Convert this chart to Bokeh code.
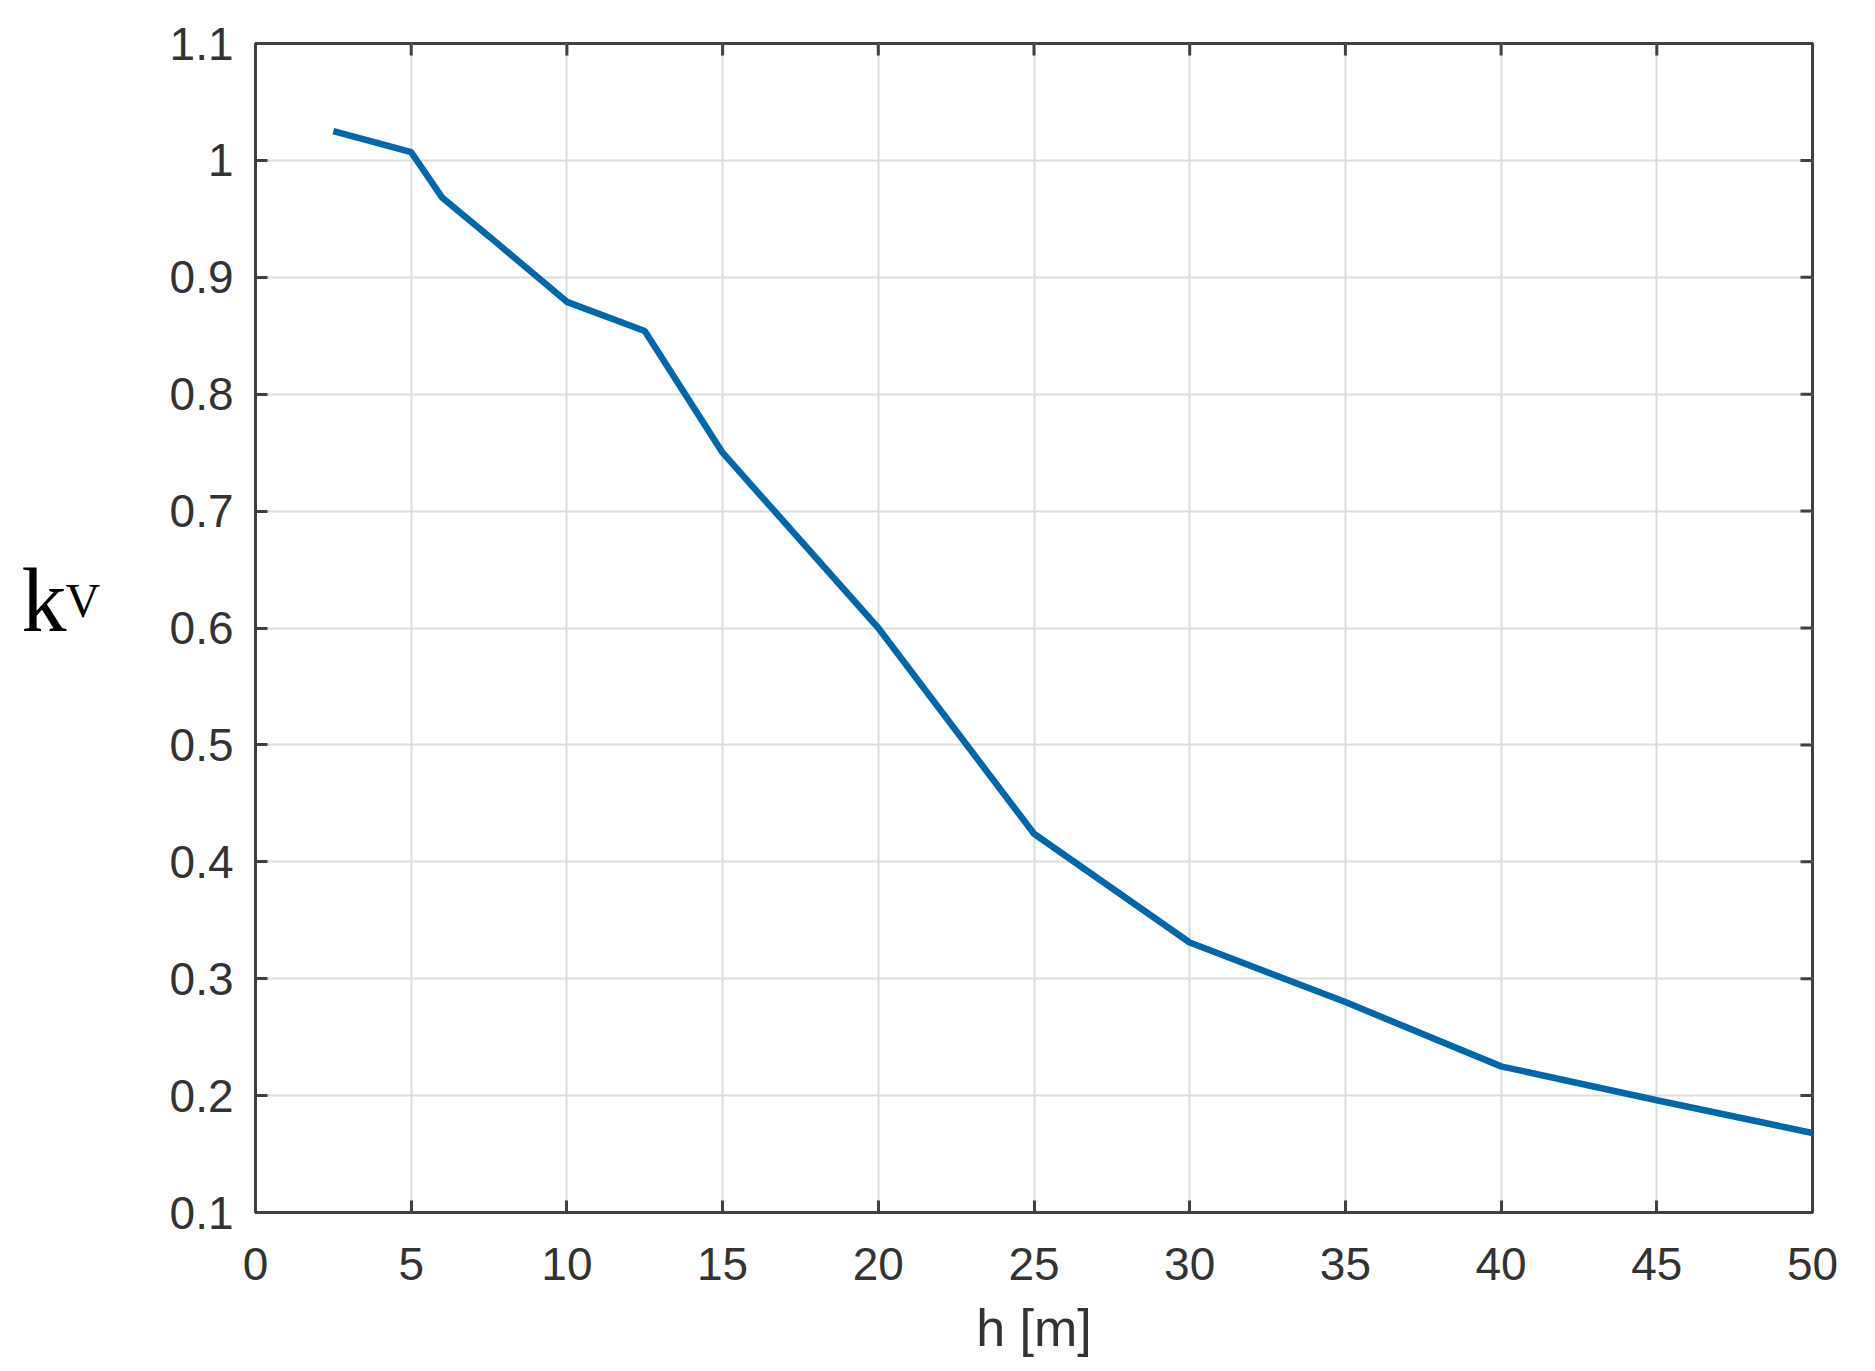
import math
from bokeh.plotting import figure
from bokeh.models import Range1d, FixedTicker, Label
from bokeh.layouts import row
from bokeh.embed import file_html
from bokeh.resources import INLINE

# data
h_values = [2.5, 5, 6, 7.5, 10, 12.5, 15, 20, 25, 30, 35, 40, 45, 50]
kv_values = [1.025, 1.007, 0.968, 0.935, 0.879, 0.854, 0.75, 0.6, 0.424, 0.331, 0.28, 0.225, 0.196, 0.168]

x_ticks = [0, 5, 10, 15, 20, 25, 30, 35, 40, 45, 50]
y_ticks = [0.1, 0.2, 0.3, 0.4, 0.5, 0.6, 0.7, 0.8, 0.9, 1.0, 1.1]
y_tick_labels = ["0.1", "0.2", "0.3", "0.4", "0.5", "0.6", "0.7", "0.8", "0.9", "1", "1.1"]
x_label = "h [m]"
y_label_main = "k"
y_label_sub = "V"
x_min, x_max = 0, 50
y_min, y_max = 0.1, 1.1

W, H = 1860, 1360
LW = 130          # width of the side panel that carries the y label
TOP, BOTTOM = 43, H - 1212

yr = Range1d(y_min, y_max)

# side panel with the y-axis label
side = figure(width=LW, height=H, output_backend="svg", toolbar_location=None,
              x_range=Range1d(0, 1), y_range=yr,
              min_border_left=0, min_border_right=0, min_border_top=TOP,
              min_border_bottom=BOTTOM)
side.axis.visible = False
side.grid.visible = False
side.outline_line_color = None
side.background_fill_color = "white"
side.border_fill_color = "white"
side.add_layout(Label(x=21, y=612, x_units="screen", y_units="screen", text=y_label_main,
                      text_font="Liberation Serif", text_font_size="90px", text_color="black",
                      text_baseline="alphabetic"))
side.add_layout(Label(x=65, y=612, x_units="screen", y_units="screen", text=y_label_sub,
                      text_font="Liberation Serif", text_font_size="48px", text_color="black",
                      text_baseline="alphabetic"))

p = figure(width=W - LW, height=H, output_backend="svg", toolbar_location=None,
           x_range=Range1d(x_min, x_max), y_range=yr,
           min_border_left=255 - LW, min_border_right=W - 1812, min_border_top=TOP,
           min_border_bottom=BOTTOM)
p.background_fill_color = "white"
p.border_fill_color = "white"

axis_color = "#404040"
label_color = "#333333"
font = "Liberation Sans"

p.outline_line_color = axis_color
p.outline_line_width = 3

p.xaxis.ticker = FixedTicker(ticks=x_ticks)
p.yaxis.ticker = FixedTicker(ticks=y_ticks)
p.yaxis.major_label_overrides = {t: s for t, s in zip(y_ticks, y_tick_labels)}

for ax in p.xaxis + p.yaxis:
    ax.axis_line_color = axis_color
    ax.axis_line_width = 3
    ax.major_tick_line_color = axis_color
    ax.major_tick_line_width = 3
    ax.major_tick_in = 12
    ax.major_tick_out = 0
    ax.minor_tick_line_color = None
    ax.major_label_text_font = font
    ax.major_label_text_font_size = "46px"
    ax.major_label_text_color = label_color

p.xaxis.major_label_standoff = 35
p.yaxis.major_label_standoff = 22
p.xaxis.axis_label = x_label
p.xaxis.axis_label_text_font = font
p.xaxis.axis_label_text_font_size = "52px"
p.xaxis.axis_label_text_font_style = "normal"
p.xaxis.axis_label_text_color = label_color
p.xaxis.axis_label_standoff = 16

p.grid.grid_line_color = "#dcdcdc"
p.grid.grid_line_width = 2

# inward tick marks on the top and right sides of the box
p.ray(x=x_ticks, y=[y_max] * len(x_ticks), length=12, length_units="screen",
      angle=-math.pi / 2, line_color=axis_color, line_width=3)
p.ray(x=[x_max] * len(y_ticks), y=y_ticks, length=12, length_units="screen",
      angle=math.pi, line_color=axis_color, line_width=3)

p.line(h_values, kv_values, line_color="#0067AD", line_width=6.5)

layout = row(side, p, spacing=0)
open("out.html", "w").write(file_html(layout, INLINE))
